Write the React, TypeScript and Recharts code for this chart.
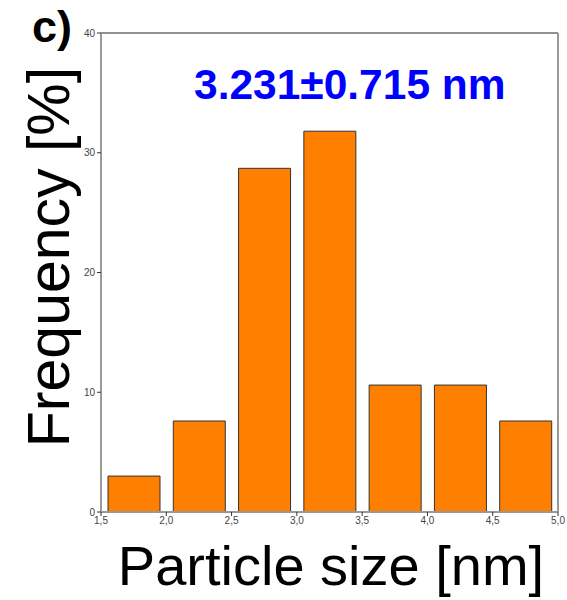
import React from 'react';
import { BarChart, Bar, XAxis, YAxis, ReferenceLine } from 'recharts';

const binCenters = [1.75, 2.25, 2.75, 3.25, 3.75, 4.25, 4.75];
const frequency = [3.0, 7.6, 28.7, 31.8, 10.6, 10.6, 7.6];
const xTicks = [1.5, 2.0, 2.5, 3.0, 3.5, 4.0, 4.5, 5.0];
const yTicks = [0, 10, 20, 30, 40];

const FONT = '"Liberation Sans", Arial, sans-serif';
const ORANGE = '#ff8000';

const data = binCenters.map((x, i) => ({ x, freq: frequency[i] }));

const tickStyle = { fill: '#444', fontSize: 10, fontFamily: FONT };

export default function App() {
  return (
    <div style={{ position: 'absolute', left: 0, top: 0, width: 567, height: 600, background: '#fff' }}>
      <BarChart
        width={567}
        height={600}
        data={data}
        margin={{ top: 33, right: 9, bottom: 0, left: 0 }}
      >
        <XAxis
          dataKey="x"
          type="number"
          domain={[1.5, 5]}
          ticks={xTicks}
          height={88}
          tickFormatter={(v) => Number(v).toFixed(1).replace('.', ',')}
          tick={tickStyle}
          tickSize={4}
          tickMargin={1}
          axisLine={{ stroke: '#999', strokeWidth: 2 }}
          tickLine={{ stroke: '#333' }}
          label={{
            content: () => (
              <text x={331} y={585} textAnchor="middle" fontSize={56} fontFamily={FONT} fill="#000">
                Particle size [nm]
              </text>
            ),
          }}
        />
        <YAxis
          type="number"
          domain={[0, 40]}
          ticks={yTicks}
          width={101}
          tick={tickStyle}
          tickSize={4}
          tickMargin={2}
          axisLine={{ stroke: '#999', strokeWidth: 2 }}
          tickLine={{ stroke: '#333' }}
          label={{
            content: () => (
              <text
                x={69}
                y={257}
                transform="rotate(-90 69 257)"
                textAnchor="middle"
                fontSize={59}
                fontFamily={FONT}
                fill="#000"
              >
                Frequency [%]
              </text>
            ),
          }}
        />
        <ReferenceLine y={40} stroke="#222" strokeWidth={1} />
        <ReferenceLine x={5} stroke="#999" strokeWidth={2} />
        <Bar dataKey="freq" fill={ORANGE} stroke="#333" strokeWidth={1} barSize={52} isAnimationActive={false} />
      </BarChart>
      <div
        style={{
          position: 'absolute',
          left: 32,
          top: 5,
          fontFamily: '"Liberation Sans Narrow", "Liberation Sans", sans-serif',
          fontWeight: 'bold',
          fontSize: 45,
          lineHeight: '44px',
          color: '#000',
        }}
      >
        c)
      </div>
      <div
        style={{
          position: 'absolute',
          left: 194,
          top: 62,
          fontFamily: FONT,
          fontWeight: 'bold',
          fontSize: 42.5,
          lineHeight: '46px',
          color: '#0000ff',
          whiteSpace: 'nowrap',
        }}
      >
        3.231±0.715 nm
      </div>
    </div>
  );
}
